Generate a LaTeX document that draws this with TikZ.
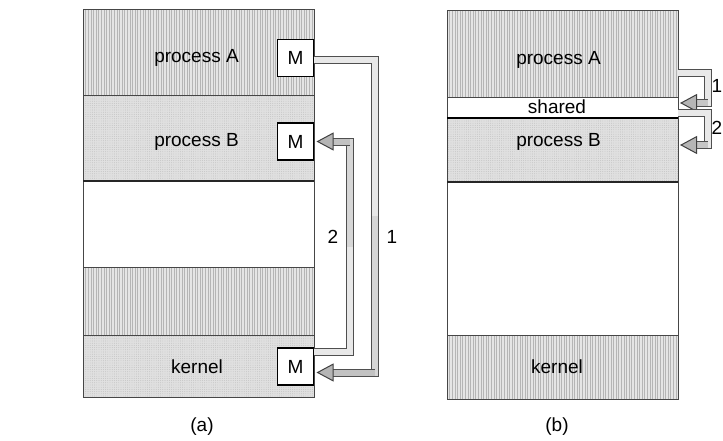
\documentclass[tikz,border=0pt]{standalone}
\usepackage{fontspec}
\setmainfont{Liberation Sans}
\usetikzlibrary{
    arrows.meta,
    calc,
    patterns.meta
}

\tikzset{
    band/.style={draw=gray!55!black, line width=0.5pt, minimum width=115.5pt,
        inner sep=0pt, outer sep=0pt},
    striped/.style={band, preaction={fill=gray!20},
        pattern={Lines[angle=90,distance=1.3pt,line width=0.45pt]},
        pattern color=gray!58},
    grainy/.style={band, preaction={fill=gray!24},
        pattern={Dots[distance=1.1pt,radius=0.22pt]}, pattern color=gray!55},
    blank/.style={band, fill=white},
    txt/.style={font=\fontsize{9.5pt}{11pt}\selectfont, inner sep=1pt},
    mbox/.style={draw=black, line width=0.9pt, fill=white, minimum width=18pt,
        minimum height=18.5pt, inner sep=0pt, outer sep=0pt,
        font=\fontsize{9.5pt}{11pt}\selectfont},
    msg/.style={draw=gray!62!black, line width=0.5pt, double=gray!18,
        double distance=3pt},
    msghead/.style={line width=0.5pt, draw=gray!55!black,
        -{Triangle[length=8.5pt,width=9pt,fill=gray!58,color=gray!50!black]}}
}

\begin{document}
\begin{tikzpicture}[x=0.5pt,y=-0.5pt]

\useasboundingbox (0,0) rectangle (723,440);

% (a) message passing
\node[striped, minimum height=43pt] (aA) at (198.5,52) {};
\node[grainy, minimum height=43pt] (aB) at (198.5,138) {};
\node[blank, minimum height=43pt] (aW) at (198.5,224) {};
\node[striped, minimum height=34pt] (aS) at (198.5,301) {};
\node[grainy, minimum height=31pt] (aK) at (198.5,366) {};
\draw[gray!30!black, line width=0.6pt] (aB.south west) -- (aB.south east);

\node[txt, yshift=-3pt] (labA) at (196.5,52) {process A};
\node[txt, yshift=-1.75pt] (labB) at (196.5,138) {process B};
\node[txt] (labK) at (197,367) {kernel};

% Message boxes
\node[mbox] (mA) at (295.5,58) {M};
\node[mbox] (mB) at (295.5,141.5) {M};
\node[mbox] (mK) at (295.5,366.5) {M};

% Message 1: A to kernel
\coordinate (h1) at ([xshift=9.5pt,yshift=-3pt]mK.east);
\coordinate (c1a) at ($(mA.east)+(61.5,2)$);
\coordinate (c1b) at (c1a |- h1);
\draw[msg] ([yshift=-1pt]mA.east) -- (c1a) -- (c1b) -- (h1);
\draw[msg, double=gray!32] ($(c1a)!0.5!(c1b)$) -- (c1b) -- (h1);
\draw[msg, double=gray!48] (c1b) -- (h1);
\draw[msghead] ([xshift=-0.5pt]h1) -- ([xshift=1.5pt,yshift=-3pt]mK.east);

% Message 2: kernel to B
\coordinate (s2) at ([yshift=7.5pt]mK.east);
\coordinate (h2) at ([xshift=9.5pt]mB.east);
\coordinate (c2a) at ($(s2)+(36.5,0)$);
\coordinate (c2b) at (c2a |- h2);
\draw[msg] (s2) -- (c2a) -- (c2b) -- (h2);
\draw[msg, double=gray!32] ($(c2a)!0.5!(c2b)$) -- (c2b) -- (h2);
\draw[msg, double=gray!48] (c2b) -- (h2);
\draw[msghead] ([xshift=-0.5pt]h2) -- ([xshift=1.5pt]mB.east);

\node[txt] (n2) at (333,237) {2};
\node[txt] (n1) at (392,237) {1};
\node[txt] (capa) at (202,427) {(a)};

% (b) shared memory
\node[striped, minimum height=43.5pt] (bA) at (562.5,53.5) {};
\node[blank, minimum height=10.5pt] (bS) at (562.5,107.5) {};
\node[grainy, minimum height=32pt] (bB) at (562.5,150) {};
\node[blank, minimum height=76.5pt] (bW) at (562.5,258.5) {};
\node[striped, minimum height=32pt] (bK) at (562.5,367) {};
\draw[black, line width=1.1pt] (bS.south west) -- (bS.south east);
\draw[gray!30!black, line width=0.6pt] (bB.south west) -- (bB.south east);

\node[txt, yshift=-3.25pt] (labA2) at (558.5,53.5) {process A};
\node[txt] (labS) at (557,107) {shared};
\node[txt, yshift=4pt] (labB2) at (558.5,150) {process B};
\node[txt] (labK2) at (557,367) {kernel};

% Writes into the shared part
\coordinate (s3) at ([yshift=-9.75pt]bA.east);
\coordinate (h3) at ([xshift=9pt,yshift=2.25pt]bS.east);
\coordinate (c3a) at ($(s3)+(30,0)$);
\coordinate (c3b) at (c3a |- h3);
\draw[msg] (s3) -- (c3a) -- (c3b) -- (h3);
\draw[msg, double=gray!45] (c3b) -- (h3);
\draw[msghead] ([xshift=-0.5pt]h3) -- ([xshift=1pt,yshift=2.25pt]bS.east);

\coordinate (s4) at ([yshift=-2.75pt]bS.east);
\coordinate (h4) at ([xshift=9pt,yshift=2.5pt]bB.east);
\coordinate (c4a) at ($(s4)+(30,0)$);
\coordinate (c4b) at (c4a |- h4);
\draw[msg] (s4) -- (c4a) -- (c4b) -- (h4);
\draw[msg, double=gray!45] (c4b) -- (h4);
\draw[msghead] ([xshift=-0.5pt]h4) -- ([xshift=1pt,yshift=2.5pt]bB.east);

\node[txt] (m1) at (717,86) {1};
\node[txt] (m2) at (717,128) {2};
\node[txt] (capb) at (557,427) {(b)};

\end{tikzpicture}
\end{document}
